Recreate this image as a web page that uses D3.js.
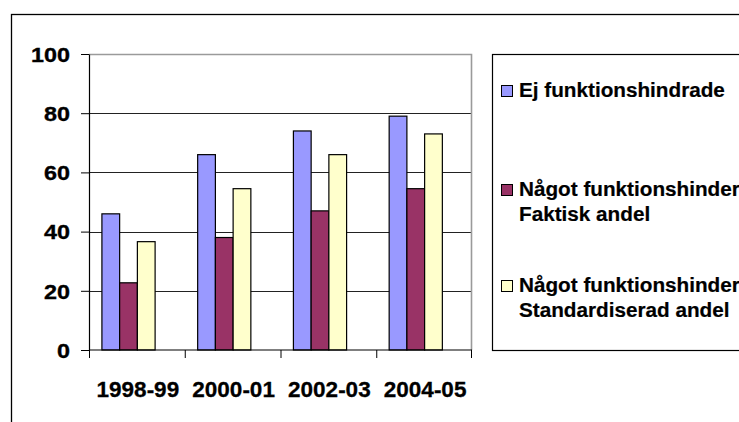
<!DOCTYPE html>
<html>
<head>
<meta charset="utf-8">
<script src="https://cdn.jsdelivr.net/npm/d3@7"></script>
<style>
  html, body { margin: 0; padding: 0; background: #fff; overflow: hidden; }
  svg { display: block; font-family: "Liberation Sans", Arial, sans-serif; }
</style>
</head>
<body>
<div id="chart"></div>
<script>
// Andel per period, tre serier
const PERIODS = ["1998-99", "2000-01", "2002-03", "2004-05"];
const SERIES = [
  ["Ej funktionshindrade"],
  ["Något funktionshinder", "Faktisk andel"],
  ["Något funktionshinder", "Standardiserad andel"],
];
const EJ_FUNK    = [46, 66, 74, 79];
const FAKTISK    = [22.7, 38, 47, 54.5];
const STANDARD   = [36.6, 54.5, 66, 73];
const Y_TICKS    = [0, 20, 40, 60, 80, 100];
const COLORS     = ["#9999ff", "#993366", "#ffffcc"];

const VALUES = [EJ_FUNK, FAKTISK, STANDARD];

// the original picture is a bit stretched sideways
function stretch(sel, k) {
  sel.each(function () {
    const len = this.getComputedTextLength();
    d3.select(this).attr("textLength", len * k).attr("lengthAdjust", "spacingAndGlyphs");
  });
}

/* ── Layout ── */
const totalW = 739, totalH = 422;
const plot = { left: 89, top: 54, right: 472, bottom: 350 };

const svg = d3.select("#chart").append("svg")
  .attr("width", totalW).attr("height", totalH);

// outer chart frame (runs off the window on right and bottom)
svg.append("rect")
  .attr("x", 11.5).attr("y", 14.5)
  .attr("width", 800).attr("height", 500)
  .attr("fill", "none").attr("stroke", "#000").attr("stroke-width", 1.3);

/* ── Scales ── */
const x0 = d3.scaleBand().domain(PERIODS).range([plot.left, plot.right]).padding(0);
// 4 slots, fourth left empty, as in the original sheet
const x1 = d3.scaleBand().domain([0, 1, 2, 3])
  .range([0, x0.bandwidth()]).paddingInner(0).paddingOuter(0.7);
const y = d3.scaleLinear().domain([0, 100]).range([plot.bottom, plot.top]);

/* ── Grid ── */
svg.append("g")
  .selectAll("line")
  .data(Y_TICKS.filter(d => d > 0 && d < 100))
  .join("line")
  .attr("x1", plot.left).attr("x2", plot.right)
  .attr("y1", d => Math.round(y(d)) + 0.5).attr("y2", d => Math.round(y(d)) + 0.5)
  .attr("stroke", "#222").attr("stroke-width", 1);

// plot area border top / right (grey)
svg.append("path")
  .attr("d", `M${plot.left},${plot.top + 0.5}H${plot.right - 0.5}V${plot.bottom}`)
  .attr("fill", "none").attr("stroke", "#9a9a9a").attr("stroke-width", 1.6);

/* ── Bars ── */
const groups = svg.append("g").selectAll("g")
  .data(PERIODS)
  .join("g")
  .attr("transform", d => `translate(${x0(d)},0)`);

groups.selectAll("rect")
  .data((p, i) => VALUES.map((vals, s) => ({ s, v: vals[i] })))
  .join("rect")
  .attr("x", d => x1(d.s) + 0.5)
  .attr("y", d => y(d.v))
  .attr("width", x1.bandwidth())
  .attr("height", d => y(0) - y(d.v))
  .attr("fill", d => COLORS[d.s])
  .attr("stroke", "#000").attr("stroke-width", 1.2);

/* ── Axes ── */
const yAxis = svg.append("g")
  .attr("transform", `translate(${plot.left},0)`)
  .call(d3.axisLeft(y).tickValues(Y_TICKS).tickSize(8).tickSizeOuter(0).tickPadding(11));
yAxis.select(".domain").attr("stroke", "#000").attr("stroke-width", 1.2);
yAxis.selectAll("line").attr("stroke", "#000");
yAxis.selectAll("text")
  .attr("font-size", 20.5).attr("font-weight", "bold").attr("fill", "#000")
  .attr("stroke", "#000").attr("stroke-width", 0.35)
  .attr("font-family", "Liberation Sans, Arial, sans-serif")
  .attr("dy", "0.36em")
  .call(stretch, 1.14);

const xAxis = svg.append("g")
  .attr("transform", `translate(0,${plot.bottom})`);
xAxis.append("line")
  .attr("x1", plot.left).attr("x2", plot.right)
  .attr("stroke", "#000").attr("stroke-width", 1.2);
xAxis.selectAll(".tick-line")
  .data(PERIODS.concat(["end"]))
  .join("line")
  .attr("class", "tick-line")
  .attr("x1", d => d === "end" ? plot.right - 0.5 : x0(d) + 0.5)
  .attr("x2", d => d === "end" ? plot.right - 0.5 : x0(d) + 0.5)
  .attr("y1", 0).attr("y2", 8)
  .attr("stroke", "#000");
xAxis.selectAll(".tick-label")
  .data(PERIODS)
  .join("text")
  .attr("class", "tick-label")
  .attr("x", d => x0(d) + x0.bandwidth() / 2 + 1)
  .attr("y", 47)
  .attr("text-anchor", "middle")
  .attr("font-size", 22.5).attr("font-weight", "bold").attr("fill", "#000")
  .attr("stroke", "#000").attr("stroke-width", 0.3)
  .text(d => d);

/* ── Legend ── */
const legend = svg.append("g");
legend.append("rect")
  .attr("x", 492.5).attr("y", 54.5)
  .attr("width", 300).attr("height", 296)
  .attr("fill", "#fff").attr("stroke", "#000").attr("stroke-width", 1.2);

const LEG_BASE = [97, 196, 292];
const items = legend.selectAll(".item")
  .data(SERIES)
  .join("g")
  .attr("class", "item")
  .attr("transform", (d, i) => `translate(0,${LEG_BASE[i]})`);

items.append("rect")
  .attr("x", 501.5).attr("y", -11.5)
  .attr("width", 11).attr("height", 11)
  .attr("fill", (d, i) => COLORS[i])
  .attr("stroke", "#000").attr("stroke-width", 1);

items.append("text")
  .attr("x", 519)
  .attr("font-size", 20).attr("font-weight", "bold").attr("fill", "#000")
  .attr("stroke", "#000").attr("stroke-width", 0.2)
  .selectAll("tspan")
  .data(d => d)
  .join("tspan")
  .attr("x", 519)
  .attr("dy", (d, i) => i === 0 ? 0 : 25)
  .text(d => d)
  .call(stretch, 1.035);
</script>
</body>
</html>
